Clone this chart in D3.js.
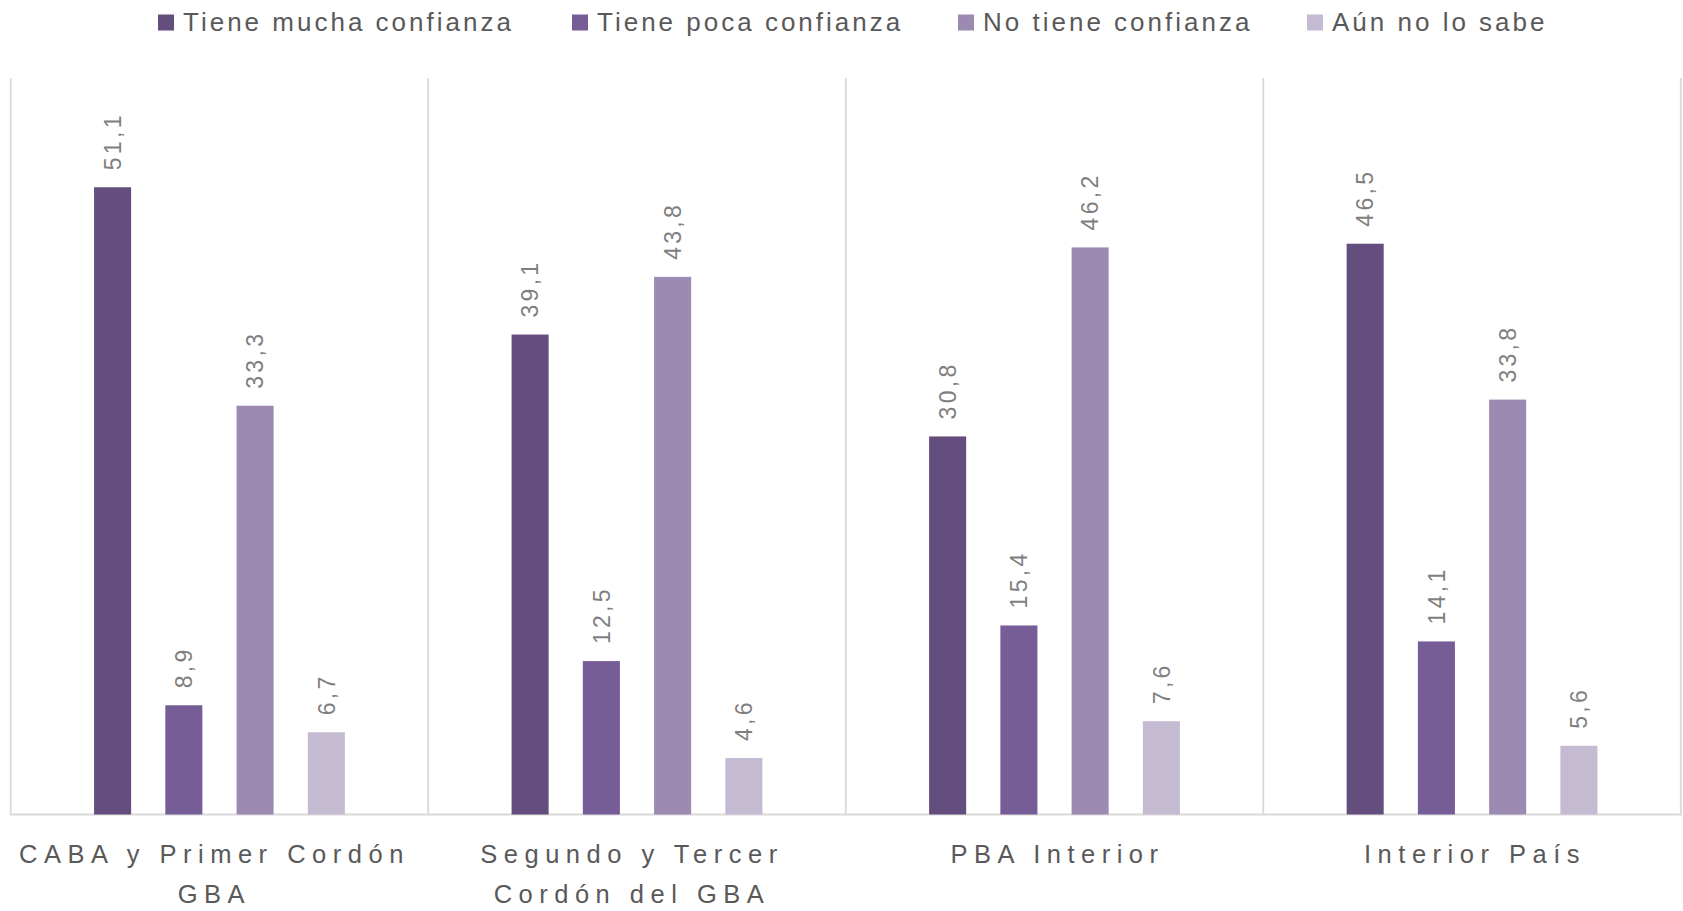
<!DOCTYPE html>
<html><head><meta charset="utf-8">
<script src="https://cdn.jsdelivr.net/npm/d3@7"></script>
<style>
html,body{margin:0;padding:0;background:#fff;}
svg{display:block;}
text{font-family:"Liberation Sans",Arial,sans-serif;}
</style></head>
<body>
<svg id="chart" width="1683" height="911"></svg>
<script>
const categories = [["CABA y Primer Cordón","GBA"],["Segundo y Tercer","Cordón del GBA"],["PBA Interior"],["Interior País"]];
const categoryKeys = ["CABA y Primer Cordón GBA","Segundo y Tercer Cordón del GBA","PBA Interior","Interior País"];
const series = ["Tiene mucha confianza","Tiene poca confianza","No tiene confianza","Aún no lo sabe"];
const colors = ["#634e7d","#775d97","#9c8ab3","#c4bbd2"];
const muchaConfianza = [51.1, 39.1, 30.8, 46.5];
const pocaConfianza = [8.9, 12.5, 15.4, 14.1];
const noConfianza = [33.3, 43.8, 46.2, 33.8];
const noSabe = [6.7, 4.6, 7.6, 5.6];
const values = [muchaConfianza, pocaConfianza, noConfianza, noSabe];

const svg = d3.select("#chart");
const pLeft = 10.7, pRight = 1680.8, pTop = 78, pBottom = 814.5;

const x0 = d3.scaleBand().domain(categoryKeys).range([pLeft, pRight]).padding(0);
const x1 = d3.scaleBand().domain(series).range([0, x0.bandwidth()]).paddingInner(0.48).paddingOuter(1.17);
const y = d3.scaleLinear().domain([0, 60]).range([pBottom, pTop]);

// panel borders
const grid = svg.append("g").attr("stroke","#d9d9d9").attr("stroke-width",1.8);
const edges = categoryKeys.map(c => x0(c)).concat([pRight]);
grid.selectAll("line.v").data(edges).join("line")
  .attr("x1", d=>d).attr("x2", d=>d).attr("y1", pTop).attr("y2", pBottom);
grid.append("line").attr("x1", pLeft-1).attr("x2", pRight+1).attr("y1", pBottom).attr("y2", pBottom);

// bars
const fmt = v => v.toFixed(1).replace(".", ",");
series.forEach((s, si) => {
  const g = svg.append("g");
  categoryKeys.forEach((c, ci) => {
    const v = values[si][ci];
    const bx = x0(c) + x1(s);
    g.append("rect").attr("x", bx).attr("width", x1.bandwidth())
      .attr("y", y(v)).attr("height", y(0) - y(v)).attr("fill", colors[si]);
    const cx = bx + x1.bandwidth()/2;
    const ty = y(v) - 17;
    g.append("text").attr("transform", `translate(${cx},${ty}) rotate(-90)`)
      .attr("dy","0.36em").attr("text-anchor","start")
      .attr("font-size", 23).attr("fill", "#7f7f7f").attr("letter-spacing", 3.3)
      .text(fmt(v));
  });
});

// category labels
categoryKeys.forEach((c, ci) => {
  const lines = categories[ci];
  const cx = x0(c) + x0.bandwidth()/2 + (lines.length > 1 ? -5 : 3);
  lines.forEach((line, li) => {
    svg.append("text").attr("x", cx).attr("y", 863 + li*40)
      .attr("text-anchor","middle").attr("font-size", 25.5).attr("letter-spacing", 6.5)
      .attr("fill","#595959").text(line);
  });
});

// legend
const legendX = [158, 572, 958, 1307];
const lg = svg.append("g");
series.forEach((s, i) => {
  lg.append("rect").attr("x", legendX[i]).attr("y", 14.5).attr("width", 16).attr("height", 16).attr("fill", colors[i]);
  lg.append("text").attr("x", legendX[i] + 25).attr("y", 31).attr("font-size", 26)
    .attr("fill","#595959").attr("letter-spacing", 3).text(s);
});
</script>
</body></html>
